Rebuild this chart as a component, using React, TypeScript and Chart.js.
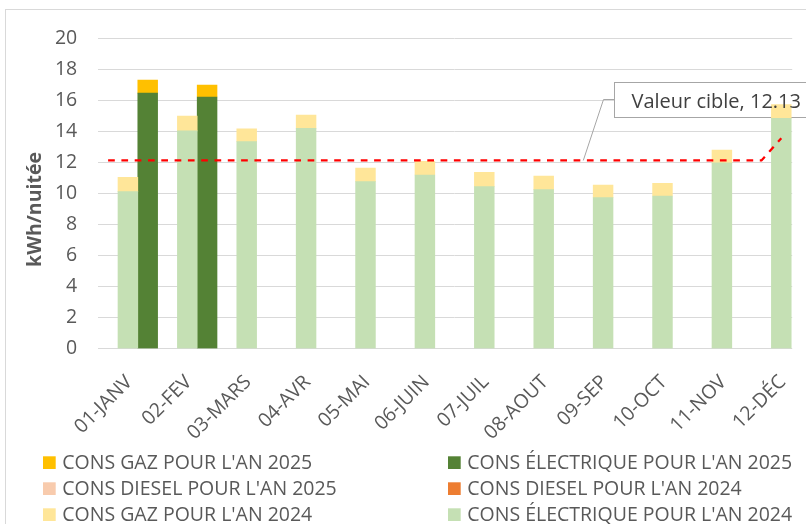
import React, { useEffect, useRef } from "react";
import { Chart, registerables } from "chart.js";

Chart.register(...registerables);

// ---- data ----
const months = ["01-JANV", "02-FEV", "03-MARS", "04-AVR", "05-MAI", "06-JUIN", "07-JUIL", "08-AOUT", "09-SEP", "10-OCT", "11-NOV", "12-DÉC"];
const elec2024 = [10.12, 14.03, 13.34, 14.2, 10.76, 11.19, 10.44, 10.25, 9.73, 9.84, 11.97, 14.84];
const gaz2024 = [0.92, 0.96, 0.82, 0.86, 0.88, 0.88, 0.92, 0.88, 0.82, 0.82, 0.83, 0.89];
const diesel2024 = [0, 0, 0, 0, 0, 0, 0, 0, 0, 0, 0, 0];
const elec2025 = [16.47, 16.22, null, null, null, null, null, null, null, null, null, null];
const gaz2025 = [0.84, 0.77, null, null, null, null, null, null, null, null, null, null];
const diesel2025 = [0, 0, null, null, null, null, null, null, null, null, null, null];
const targetValue = 12.13;
const targetValues = [12.13, 12.13, 12.13, 12.13, 12.13, 12.13, 12.13, 12.13, 12.13, 12.13, 12.13, 12.13, 13.56];
const targetLabelIndex = 8;
const yMin = 0;
const yMax = 20;
const yStep = 2;
const yTitle = "kWh/nuitée";
const legendOrder = [
  "CONS GAZ POUR L'AN 2025",
  "CONS ÉLECTRIQUE POUR L'AN 2025",
  "CONS DIESEL POUR L'AN 2025",
  "CONS DIESEL POUR L'AN 2024",
  "CONS GAZ POUR L'AN 2024",
  "CONS ÉLECTRIQUE POUR L'AN 2024",
];

// ---- style ----
const FONT = "'Open Sans', sans-serif";
const TEXT = "#595959";
const GRID = "#D9D9D9";
const FS = 19.5;

// three side-by-side slots per month: diesel | 2024 | 2025
const SLOT = 1 / 3;
const slotDiesel = -SLOT;
const slot2024 = 0;
const slot2025 = SLOT;

const toPoints = (values: (number | null)[], shift: number) => values.map((v, i) => ({ x: i + shift, y: v }));

// line: centre of the first slot of each month, last point on December
const targetPoints = targetValues.map((v, i) => ({ x: i < months.length ? i + slotDiesel : months.length - 1, y: v }));

const customPlugin = {
  id: "custom",
  beforeDatasetsDraw(chart: any) {
    const { ctx, chartArea, scales } = chart;
    const xs = scales.x;
    const slot = (xs.getPixelForValue(1) - xs.getPixelForValue(0)) * SLOT;
    const gridEnd = xs.getPixelForValue(months.length - 1) + slot / 2 + 1;
    ctx.save();
    ctx.fillStyle = "#ffffff";
    ctx.fillRect(gridEnd, chartArea.top - 2, chartArea.right - gridEnd + 4, chartArea.bottom - chartArea.top + 3);
    // data label box
    const pt = chart.getDatasetMeta(0).data[targetLabelIndex];
    const bx = Math.round(pt.x + 30.5);
    const by = Math.round(pt.y - 78.5);
    const bh = 35;
    ctx.fillRect(bx, by, 320, bh);
    ctx.strokeStyle = "#A6A6A6";
    ctx.lineWidth = 1;
    ctx.strokeRect(bx + 0.5, by + 0.5, 320, bh);
    ctx.beginPath();
    ctx.moveTo(bx, by + bh / 2);
    ctx.lineTo(bx - 10.5, by + bh / 2);
    ctx.lineTo(pt.x, pt.y);
    ctx.stroke();
    ctx.restore();
  },
  afterDatasetsDraw(chart: any) {
    const { ctx } = chart;
    const pt = chart.getDatasetMeta(0).data[targetLabelIndex];
    const bx = Math.round(pt.x + 30.5);
    const by = Math.round(pt.y - 78.5);
    ctx.save();
    ctx.fillStyle = "#404040";
    ctx.font = `20px ${FONT}`;
    ctx.textAlign = "left";
    ctx.textBaseline = "alphabetic";
    ctx.fillText(`Valeur cible, ${targetValue.toFixed(2)}`, bx + 17.5, by + 25.5);
    ctx.restore();
  },
  afterDraw(chart: any) {
    const { ctx, chartArea } = chart;
    ctx.save();
    ctx.fillStyle = TEXT;
    ctx.font = `bold ${FS}px ${FONT}`;
    ctx.translate(41, (chartArea.top + chartArea.bottom) / 2 + 16);
    ctx.rotate(-Math.PI / 2);
    ctx.textAlign = "center";
    ctx.textBaseline = "alphabetic";
    ctx.fillText(yTitle, 0, 0);
    ctx.restore();

    ctx.save();
    ctx.font = `${FS}px ${FONT}`;
    ctx.textAlign = "left";
    ctx.textBaseline = "alphabetic";
    const colX = [43, 448];
    const top0 = chart.height - 67.7;
    const rowGap = 26;
    const box = 12.7;
    legendOrder.forEach((label, i) => {
      const ds = chart.data.datasets.find((d: any) => d.label === label);
      if (!ds) return;
      const x = colX[i % 2];
      const y = top0 + Math.floor(i / 2) * rowGap;
      ctx.fillStyle = ds.backgroundColor;
      ctx.fillRect(x, y, box, box);
      ctx.fillStyle = TEXT;
      ctx.fillText(label, x + 19.3, y + 12.7);
    });
    ctx.restore();
  },
};

export default function App() {
  const ref = useRef<HTMLCanvasElement>(null);
  useEffect(() => {
    const canvas = ref.current!;
    const bar = (label: string, values: (number | null)[], shift: number, color: string, stack: string, inflate: any = "auto") => ({
      type: "bar" as const,
      label,
      data: toPoints(values, shift),
      xAxisID: "xb",
      yAxisID: "y",
      backgroundColor: color,
      borderWidth: 0,
      inflateAmount: inflate,
      stack,
      grouped: false,
      order: 1,
      categoryPercentage: 1,
      barPercentage: 1,
    });
    const chart = new Chart(canvas, {
      type: "bar",
      data: {
        labels: months,
        datasets: [
          {
            type: "line",
            label: "Valeur cible",
            data: targetPoints,
            xAxisID: "xb",
            yAxisID: "y",
            grouped: false,
            borderColor: "#FF0000",
            borderWidth: 2.25,
            borderDash: [6.7, 6.6],
            borderCapStyle: "butt",
            pointRadius: 0,
            fill: false,
            tension: 0,
            order: 0,
          } as any,
          bar("CONS DIESEL POUR L'AN 2024", diesel2024, slotDiesel, "#ED7D31", "diesel", 0),
          bar("CONS DIESEL POUR L'AN 2025", diesel2025, slotDiesel, "#F8CBAD", "diesel", 0),
          bar("CONS ÉLECTRIQUE POUR L'AN 2024", elec2024, slot2024, "#C5E0B4", "y2024"),
          bar("CONS GAZ POUR L'AN 2024", gaz2024, slot2024, "#FFE699", "y2024"),
          bar("CONS ÉLECTRIQUE POUR L'AN 2025", elec2025, slot2025, "#548235", "y2025"),
          bar("CONS GAZ POUR L'AN 2025", gaz2025, slot2025, "#FFC000", "y2025"),
        ],
      },
      options: {
        responsive: false,
        animation: false,
        devicePixelRatio: 1,
        layout: { padding: { top: 38.3, right: 19, bottom: 80, left: 0 } },
        plugins: {
          legend: { display: false },
          tooltip: { enabled: false },
        },
        scales: {
          x: {
            type: "category",
            offset: true,
            grid: { display: false, drawTicks: false },
            border: { display: true, color: GRID, width: 1 },
            ticks: {
              autoSkip: false,
              minRotation: 45,
              maxRotation: 45,
              padding: 22,
              labelOffset: 1.5,
              color: TEXT,
              font: { family: FONT, size: FS },
            },
            afterFit: (s: any) => {
              s.height = 95.3;
            },
          },
          xb: {
            type: "linear",
            display: false,
            min: -0.5,
            max: months.length - 0.5,
            offset: false,
          },
          y: {
            stacked: true,
            min: yMin,
            max: yMax,
            ticks: {
              stepSize: yStep,
              padding: 21,
              color: TEXT,
              font: { family: FONT, size: FS },
            },
            grid: { color: GRID, lineWidth: 1, drawTicks: false },
            border: { display: false },
            afterFit: (s: any) => {
              s.width = 98.2;
            },
          },
        } as any,
      },
      plugins: [customPlugin],
    });
    return () => chart.destroy();
  }, []);

  return (
    <div style={{ position: "absolute", left: 0, top: 0, width: 806, height: 524, overflow: "hidden", background: "#fff" }}>
      <div
        style={{
          position: "absolute",
          left: 5,
          top: 9,
          width: 900,
          height: 600,
          borderLeft: `1px solid ${GRID}`,
          borderTop: `1px solid ${GRID}`,
        }}
      />
      <canvas ref={ref} width={830} height={524} style={{ position: "absolute", left: 0, top: 0, width: 830, height: 524 }} />
    </div>
  );
}
